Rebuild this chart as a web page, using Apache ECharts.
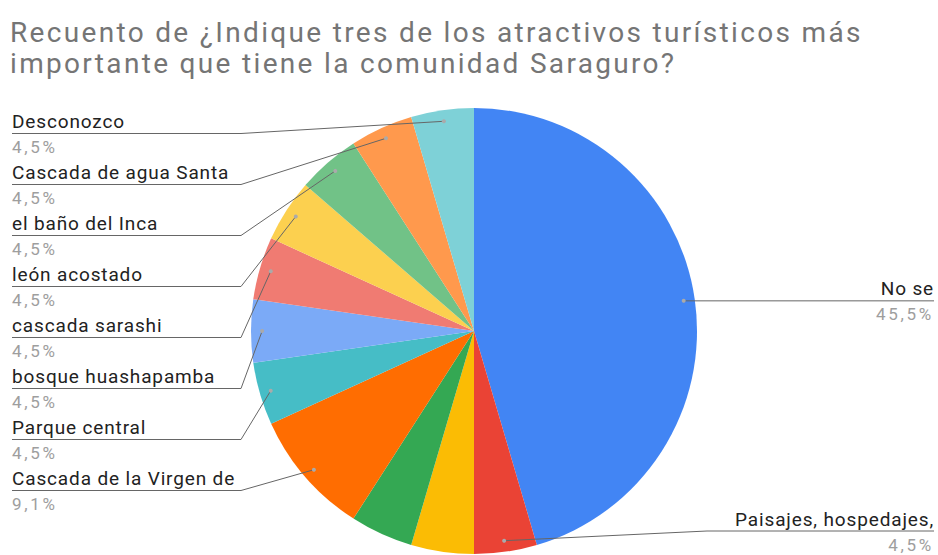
<!DOCTYPE html>
<html><head><meta charset="utf-8">
<script src="https://cdn.jsdelivr.net/npm/echarts@6/dist/echarts.min.js"></script>
<style>
html,body{margin:0;padding:0;background:#fff}
#c{width:938px;height:555px}
#c text{letter-spacing:0.045em}
#c text[style*="28px"]{letter-spacing:0.083em}
#c text[style*="17px"]{letter-spacing:0.16em}
</style>
</head><body><div id="c"></div>
<script>
const titleText = 'Recuento de ¿Indique tres de los atractivos turísticos más\nimportante que tiene la comunidad Saraguro?';
const categories = ['No se', 'Paisajes, hospedajes,', '(sin etiqueta 1)', '(sin etiqueta 2)', 'Cascada de la Virgen de', 'Parque central', 'bosque huashapamba', 'cascada sarashi', 'león acostado', 'el baño del Inca', 'Cascada de agua Santa', 'Desconozco'];
const counts = [10, 1, 1, 1, 2, 1, 1, 1, 1, 1, 1, 1];
const showLabel = [true, true, false, false, true, true, true, true, true, true, true, true];
const colors = ['#4285F4', '#EA4335', '#FBBC04', '#34A853', '#FF6D01', '#46BDC6', '#7BAAF7', '#F07B72', '#FCD04F', '#71C287', '#FF994D', '#7ED1D7'];

const total = counts.reduce((a, b) => a + b, 0);
const midFrac = []; let acc = 0;
counts.forEach(v => { midFrac.push((acc + v / 2) / total); acc += v; });
const isRight = midFrac.map(f => f < 0.5);
const leftRows = {}; let row = 0;
for (let i = counts.length - 1; i >= 0; i--) if (showLabel[i] && !isRight[i]) leftRows[i] = row++;

const CX = 474, CY = 331, R = 223;
const FONT = 'Roboto';
function pct(v) { return (v / total * 100).toFixed(1).replace('.', ',') + '%'; }
function dotPos(i) {
  const th = midFrac[i] * Math.PI * 2;
  return [CX + 0.95 * R * Math.sin(th), CY - 0.95 * R * Math.cos(th)];
}

const dots = [];
counts.forEach((v, i) => {
  if (!showLabel[i]) return;
  const d = dotPos(i);
  dots.push({ type: 'circle', z: 10, silent: true, shape: { cx: d[0], cy: d[1], r: 2 }, style: { fill: '#aaaaaa' } });
});

const chart = echarts.init(document.getElementById('c'), null, { renderer: 'svg' });
chart.setOption({
  animation: false,
  title: {
    text: titleText, left: 10, top: 17, padding: 0,
    textStyle: { fontFamily: FONT, fontSize: 28, fontWeight: 'normal', color: '#757575', lineHeight: 31 }
  },
  graphic: dots,
  series: [{
    type: 'pie', z: 2, center: [CX, CY], radius: R, startAngle: 90, clockwise: true,
    emphasis: { disabled: true }, silent: true,
    label: { show: false }, labelLine: { show: false },
    data: categories.map((n, i) => ({ name: n, value: counts[i], itemStyle: { color: colors[i] } }))
  }, {
    type: 'pie', z: 3, center: [CX, CY], radius: R, startAngle: 90, clockwise: true,
    avoidLabelOverlap: false, silent: true,
    emphasis: { disabled: true },
    itemStyle: { color: 'rgba(0,0,0,0)' },
    data: categories.map((n, i) => ({
      name: n, value: counts[i],
      label: { show: showLabel[i] }, labelLine: { show: showLabel[i] }
    })),
    label: {
      show: true, position: 'outside',
      formatter: p => { const s = isRight[p.dataIndex] ? 'R' : 'L'; return '{n' + s + '|' + p.name + '}\n{p' + s + '|' + pct(p.value) + '}'; },
      rich: {
        nL: { fontFamily: FONT, fontSize: 19, color: '#222', lineHeight: 24, align: 'left' },
        pL: { fontFamily: FONT, fontSize: 17, color: '#9e9e9e', lineHeight: 27, align: 'left' },
        nR: { fontFamily: FONT, fontSize: 19, color: '#222', lineHeight: 24, align: 'right' },
        pR: { fontFamily: FONT, fontSize: 17, color: '#9e9e9e', lineHeight: 27, align: 'right' }
      }
    },
    labelLine: { show: true, length: 10, length2: 10, lineStyle: { color: '#666', width: 1 } },
    labelLayout: function (params) {
      const i = params.dataIndex;
      const dot = dotPos(i);
      if (isRight[i]) {
        const uy = Math.min(dot[1], 531);
        return { x: 934, y: uy - 24, align: 'right', verticalAlign: 'top', labelLinePoints: [dot, [707, uy], [934, uy]] };
      } else {
        const uy = 133.5 + leftRows[i] * 51;
        return { x: 12, y: uy - 24, align: 'left', verticalAlign: 'top', labelLinePoints: [dot, [241, uy], [12, uy]] };
      }
    }
  }]
});
</script></body></html>
